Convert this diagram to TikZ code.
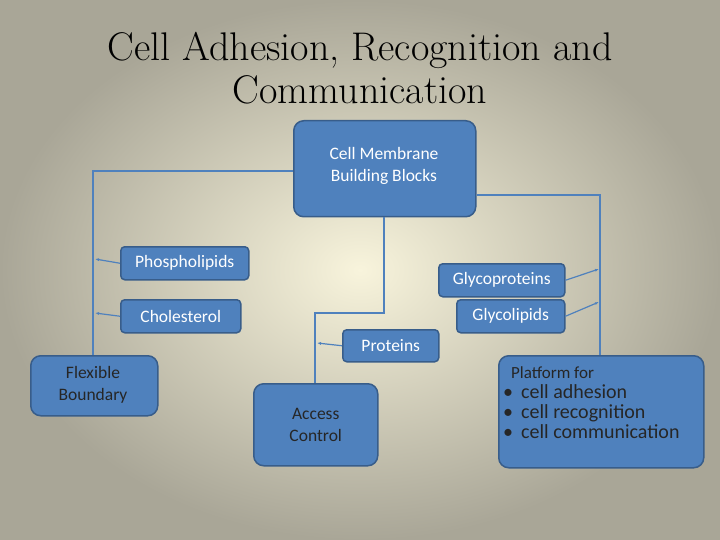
\documentclass[tikz,border=0pt]{standalone}
\usepackage{fontspec}
\setmainfont{Carlito}
\newfontfamily\titlefont{Latin Modern Roman 10 Regular}
\usetikzlibrary{arrows.meta}
\definecolor{boxfill}{HTML}{4F81BD}
\definecolor{boxdraw}{HTML}{385D8A}
\definecolor{bgc}{HTML}{F8F4DC}
\definecolor{bge}{HTML}{A9A697}
\begin{document}
\begin{tikzpicture}[x=1pt,y=-1pt,
  box/.style={draw=boxdraw,line width=1.5pt,fill=boxfill,rounded corners=4pt,text=white,font=\fontsize{17.5}{22}\selectfont,align=center,anchor=north west,inner sep=2pt},
  big/.style={box,rounded corners=10pt},
  txt/.style={font=\fontsize{17.5}{22}\selectfont,align=center,inner sep=0pt,anchor=north},
  con/.style={draw=boxfill,line width=1.2pt},
  arr/.style={con,-{Latex[length=4pt,width=3pt]}}]
\shade[inner color=bgc,outer color=bge] (0,0) rectangle (720,540);
\useasboundingbox (0,0) rectangle (720,540);
\node[font=\titlefont\fontsize{40}{43}\selectfont,align=center] (title) at (360,68) {Cell Adhesion, Recognition and\\Communication};
\node[big,minimum width=182pt,minimum height=96pt] (top) at (293,120) {};
\node[txt,text=white] (toptxt) at (384,147) {Cell Membrane\\Building Blocks};
\node[box,minimum width=128pt,minimum height=33pt] (pho) at (120,246) {Phospholipids};
\node[box,minimum width=126pt,minimum height=33pt] (gp) at (438,263) {Glycoproteins};
\node[box,minimum width=120pt,minimum height=33pt] (cho) at (120,299) {Cholesterol};
\node[box,minimum width=108pt,minimum height=33pt] (gl) at (456,299) {Glycolipids};
\node[box,minimum width=96pt,minimum height=32pt] (pro) at (342,329) {Proteins};
\node[big,minimum width=127pt,minimum height=60pt] (flex) at (30,355) {};
\node[txt,text=black!85] (flextxt) at (93,366) {Flexible\\Boundary};
\node[big,minimum width=124pt,minimum height=82pt,text=black!85] (acc) at (253,383) {Access\\Control};
\node[big,minimum width=205pt,minimum height=112pt] (plat) at (498,355) {};
\node[anchor=north west,align=left,inner sep=0pt,text=black!85,font=\fontsize{20}{24}\selectfont] (plattxt) at (503,366) {\hspace*{8pt}{\fontsize{17}{18}\selectfont Platform for}\\[-4pt]
\textbullet\hspace{8pt}cell adhesion\\[-4pt]\textbullet\hspace{8pt}cell recognition\\[-4pt]\textbullet\hspace{8pt}cell communication};
\coordinate (L1) at (93,171); \coordinate (R1) at (600,195);
\coordinate (C1) at (384,313); \coordinate (C2) at (315,313);
\draw[con] (top.west|-L1) -- (L1) -- (L1|-flex.north);
\draw[con] (top.east|-R1) -- (R1) -- (R1|-plat.north);
\draw[con] (top.south-|C1) -- (C1) -- (C2) -- (C2|-acc.north);
\coordinate (ap) at (95,259); \coordinate (ac) at (95,313);
\coordinate (agp) at (599,269); \coordinate (agl) at (599,302);
\coordinate (apr) at (317,343);
\draw[arr] (pho.west) -- (ap);
\draw[arr] (cho.west) -- (ac);
\draw[arr] (gp.east) -- (agp);
\draw[arr] (gl.east) -- (agl);
\draw[arr] (pro.west) -- (apr);
\end{tikzpicture}
\end{document}
